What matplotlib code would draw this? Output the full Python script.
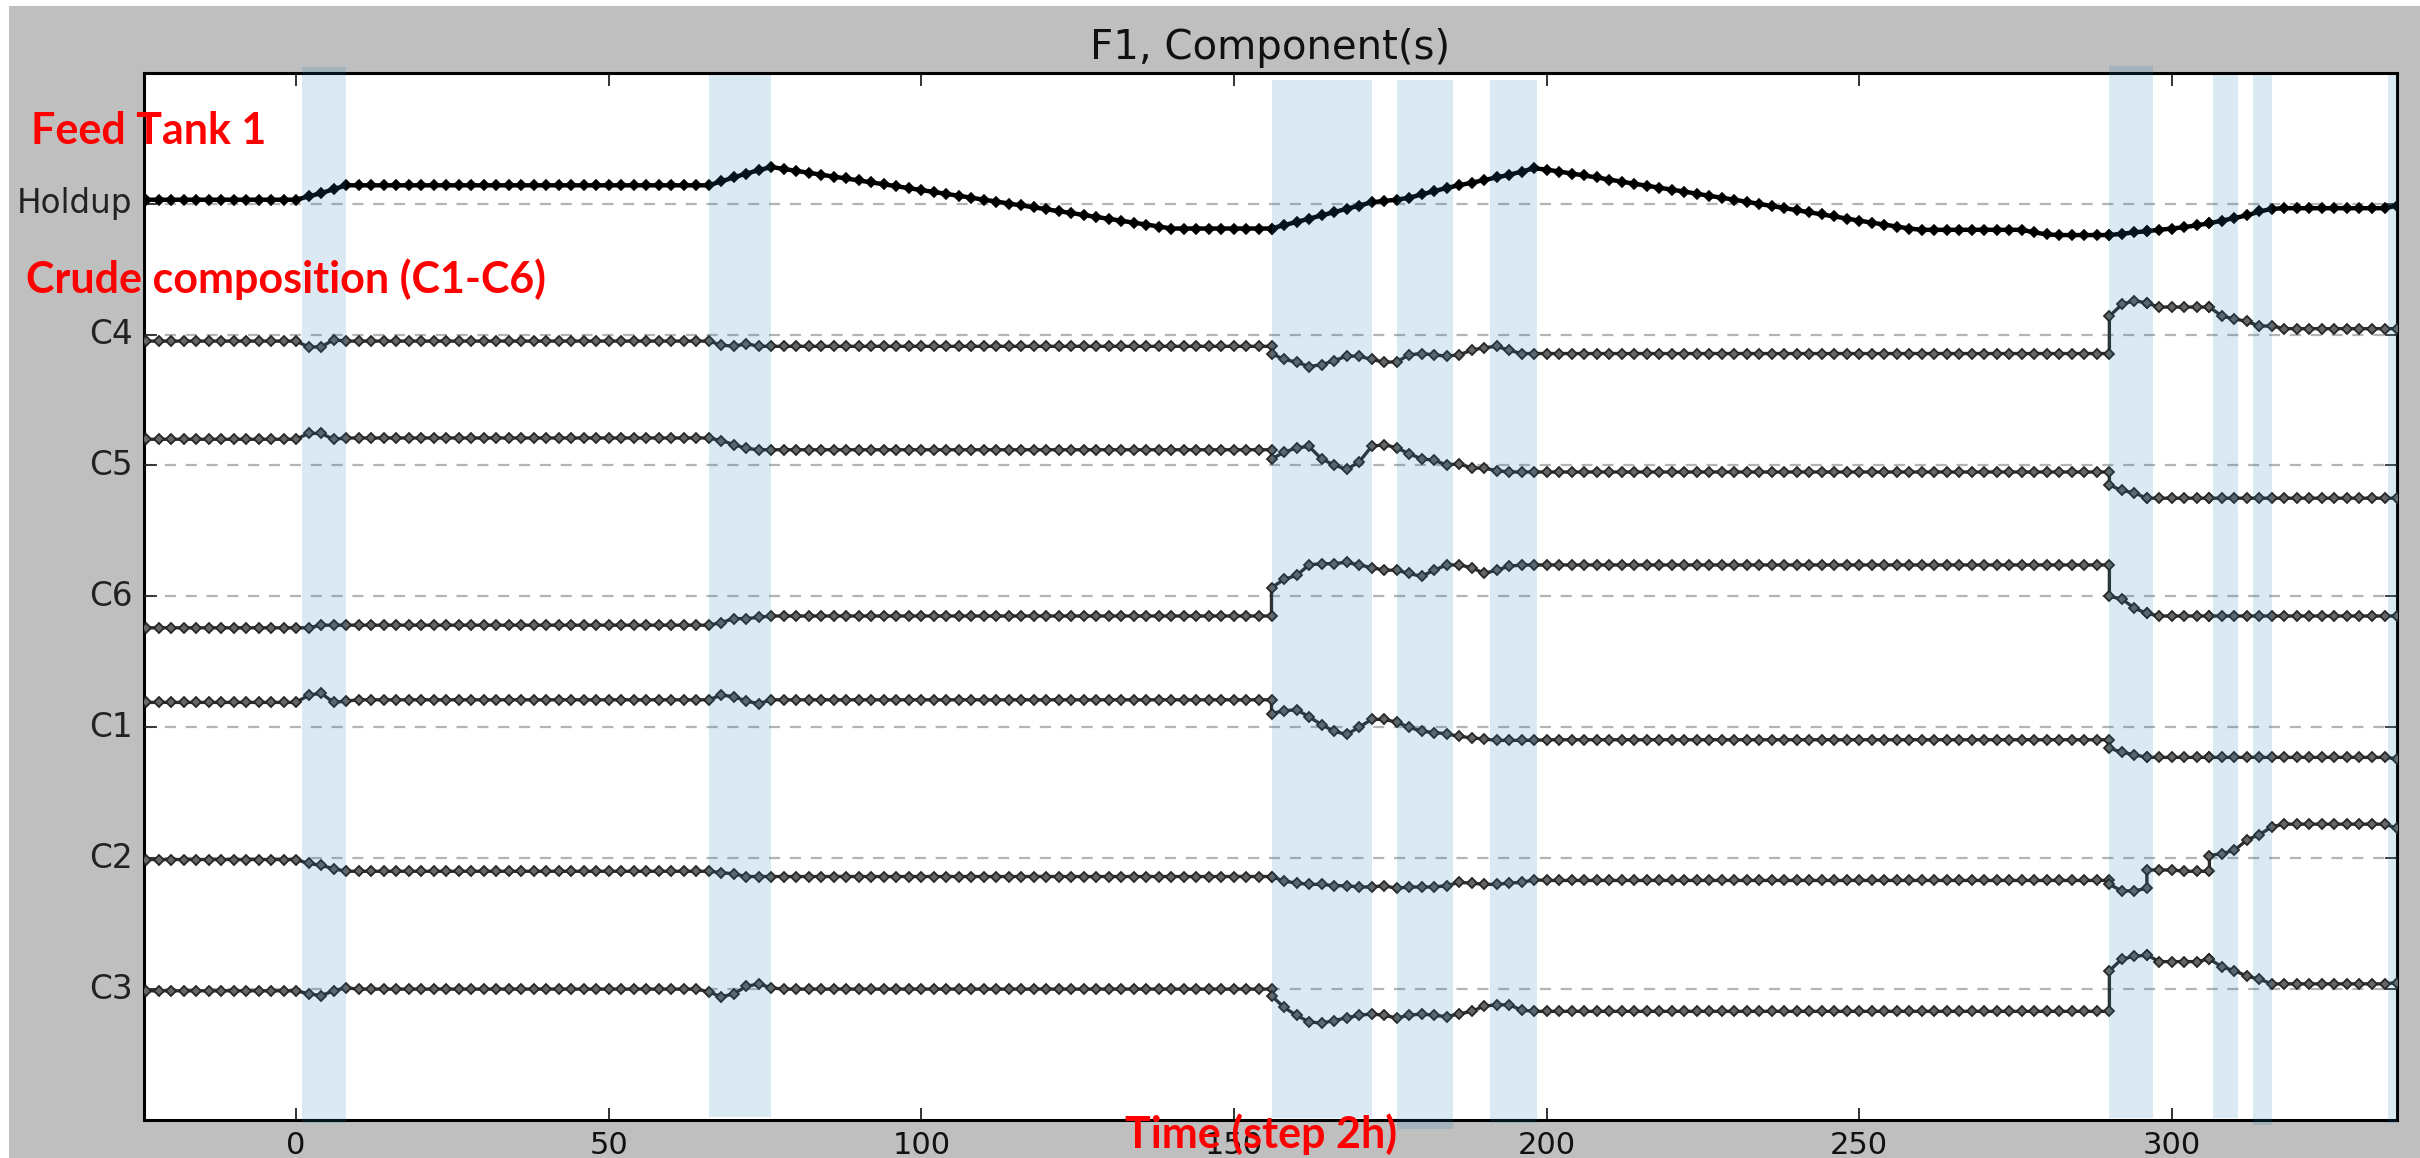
import numpy as np
import matplotlib
matplotlib.use("Agg")
import matplotlib.pyplot as plt
from matplotlib.patches import Rectangle

plt.style.use("classic")

# time grid (step 2), repeated instants are where the feed switches
time = np.concatenate([
    np.arange(-24, 157, 2),
    np.arange(156, 291, 2),
    np.arange(290, 297, 2),
    np.arange(296, 307, 2),
    np.arange(306, 337, 2),
])

labels = ["Holdup", "C4", "C5", "C6", "C1", "C2", "C3"]

# deviations from the reference level of each row (row spacing = 1)
holdup = (
    [0.03] * 13 + [0.055, 0.08, 0.11, 0.14] + [0.14] * 29
    + [0.17, 0.2, 0.23, 0.255, 0.28]
    + [0.265, 0.25, 0.236, 0.221, 0.206, 0.192, 0.177, 0.162, 0.148, 0.133,
       0.118, 0.104, 0.089, 0.074, 0.06, 0.045, 0.03, 0.016, 0.001, -0.014,
       -0.028, -0.043, -0.058, -0.072, -0.087, -0.102, -0.116, -0.131,
       -0.146, -0.16, -0.175, -0.19]
    + [-0.19] * 8
    + [-0.19, -0.165, -0.14, -0.115, -0.09, -0.065, -0.04, -0.015, 0.01]
    + [0.02, 0.03, 0.045]
    + [0.07, 0.095, 0.12, 0.14, 0.16, 0.18, 0.2, 0.22, 0.245, 0.27]
    + [0.26, 0.245, 0.23, 0.215, 0.2, 0.184, 0.168, 0.152, 0.137, 0.122,
       0.107, 0.092, 0.076, 0.06, 0.045, 0.03, 0.014, -0.002, -0.018, -0.034,
       -0.05, -0.066, -0.082, -0.098, -0.114, -0.13, -0.145, -0.16, -0.175,
       -0.19]
    + [-0.2] * 9 + [-0.22, -0.235, -0.24, -0.24, -0.24, -0.24, -0.24]
    + [-0.24, -0.23, -0.22, -0.21]
    + [-0.21, -0.2, -0.19, -0.18, -0.165, -0.15]
    + [-0.15, -0.13, -0.11, -0.09, -0.06, -0.04] + [-0.035] * 9 + [-0.015]
)

c4 = (
    [-0.05] * 13 + [-0.095, -0.095, -0.04, -0.05] + [-0.05] * 28
    + [-0.05, -0.08, -0.09, -0.07, -0.09, -0.09] + [-0.09] * 40
    + [-0.145, -0.19, -0.21, -0.245, -0.23, -0.2, -0.165, -0.165, -0.19,
       -0.21, -0.21, -0.155, -0.145, -0.155, -0.165, -0.155, -0.12, -0.1,
       -0.09, -0.12, -0.145, -0.145]
    + [-0.145] * 46
    + [0.14, 0.23, 0.26, 0.24]
    + [0.24, 0.21, 0.21, 0.21, 0.21, 0.21]
    + [0.21, 0.14, 0.12, 0.1, 0.065, 0.065] + [0.045] * 10
)

c5 = (
    [0.2] * 13 + [0.245, 0.245, 0.2, 0.21] + [0.21] * 29
    + [0.19, 0.16, 0.13, 0.12, 0.12] + [0.12] * 40
    + [0.05, 0.1, 0.135, 0.145, 0.05, 0.004, -0.03, 0.026, 0.145, 0.16,
       0.135, 0.09, 0.05, 0.04, 0.004, 0.013, -0.02, -0.02, -0.04, -0.05,
       -0.05, -0.05]
    + [-0.05] * 46
    + [-0.15, -0.19, -0.21, -0.25]
    + [-0.25] * 6
    + [-0.25] * 16
)

c6 = (
    [-0.24] * 14 + [-0.22] * 31
    + [-0.22, -0.2, -0.17, -0.17, -0.16, -0.15] + [-0.15] * 40
    + [0.066, 0.13, 0.16, 0.24, 0.25, 0.25, 0.26, 0.24, 0.22, 0.2, 0.2,
       0.175, 0.153, 0.2, 0.24, 0.24, 0.22, 0.175, 0.2, 0.23, 0.24, 0.24]
    + [0.24] * 46
    + [0.0, -0.02, -0.09, -0.13]
    + [-0.13] + [-0.15] * 5
    + [-0.15] * 16
)

c1 = (
    [0.19] * 13 + [0.245, 0.26, 0.19, 0.2] + [0.21] * 29
    + [0.245, 0.235, 0.2, 0.18, 0.21] + [0.21] * 40
    + [0.105, 0.125, 0.135, 0.08, 0.02, -0.03, -0.055, 0.0, 0.06, 0.06,
       0.04, 0.0, -0.03, -0.04, -0.05, -0.07, -0.08, -0.09, -0.1, -0.1,
       -0.1, -0.1]
    + [-0.095] * 46
    + [-0.16, -0.19, -0.21, -0.23]
    + [-0.23] * 6
    + [-0.23] * 15 + [-0.24]
)

c2 = (
    [-0.01] * 13 + [-0.04, -0.055, -0.08, -0.1] + [-0.1] * 29
    + [-0.11, -0.12, -0.14, -0.14, -0.14] + [-0.14] * 40
    + [-0.14, -0.175, -0.19, -0.2, -0.2, -0.21, -0.21, -0.22, -0.22, -0.21,
       -0.23, -0.22, -0.22, -0.22, -0.21, -0.185, -0.19, -0.2, -0.2, -0.19,
       -0.185, -0.165]
    + [-0.17] * 46
    + [-0.2, -0.25, -0.25, -0.23]
    + [-0.09, -0.09, -0.09, -0.1, -0.1, -0.1]
    + [0.02, 0.035, 0.06, 0.14, 0.18, 0.24] + [0.26] * 9 + [0.23]
)

c3 = (
    [-0.013] * 13 + [-0.035, -0.05, -0.013, 0.01] + [0.0] * 28
    + [-0.02, -0.06, -0.035, 0.02, 0.04, 0.01] + [0.0] * 40
    + [-0.05, -0.14, -0.2, -0.25, -0.26, -0.24, -0.22, -0.2, -0.19, -0.2,
       -0.22, -0.2, -0.19, -0.2, -0.21, -0.19, -0.17, -0.13, -0.12, -0.12,
       -0.16, -0.17]
    + [-0.17] * 46
    + [0.14, 0.23, 0.25, 0.26]
    + [0.26, 0.21, 0.21, 0.21, 0.21, 0.23]
    + [0.23, 0.17, 0.14, 0.1, 0.075, 0.04] + [0.04] * 9 + [0.05]
)

series = [holdup, c4, c5, c6, c1, c2, c3]
for s in series:
    assert len(s) == len(time), len(s)

# shaded disturbance windows
span_start = [1, 66, 156, 176, 191, 290, 306.5, 313, 334.5]
span_end = [8, 76, 172, 185, 198.5, 297, 310.5, 316, 336]
span_top = [1.005, 0.998, 0.993, 0.993, 0.993, 1.006, 0.998, 0.998, 0.998]
span_bot = [-0.003, 0.003, 0.002, -0.009, -0.003, 0.002, 0.002, -0.005, -0.003]

fig = plt.figure(figsize=(24.2, 11.58), dpi=100, facecolor="white")
fig.patches.append(Rectangle((9 / 2420, 0), 1, 1 - 6 / 1158,
                             transform=fig.transFigure, facecolor="#bfbfbf",
                             edgecolor="none", zorder=-10))
ax = fig.add_axes([0.0593, 0.0328, 0.9312, 0.9044])

levels = np.arange(len(labels))[::-1]
for lvl, vals, name in zip(levels, series, labels):
    ax.axhline(lvl, color="#b4b4b4", lw=1.6, ls=(0, (8, 7)), zorder=1)
    y = lvl + np.asarray(vals)
    if name == "Holdup":
        ax.plot(time, y, "-", color="black", lw=3.2, marker="D", ms=5.6,
                mfc="black", mec="black", mew=1.2, zorder=3)
    else:
        ax.plot(time, y, "-", color="#2e2e2e", lw=2.4, marker="D", ms=5.2,
                mfc="#666666", mec="#262626", mew=1.3, zorder=3)

for x0, x1, lo, hi in zip(span_start, span_end, span_bot, span_top):
    ax.axvspan(x0, x1, ymin=lo, ymax=hi, color="#1f77b4", alpha=0.16,
               lw=0, zorder=4, clip_on=False)

ax.set_xlim(-24.4, 336)
ax.set_ylim(-1, 7)
ax.set_yticks(levels)
ax.set_yticklabels(labels)
ax.set_xticks([0, 50, 100, 150, 200, 250, 300])
ax.tick_params(axis="x", labelsize=22, length=9, width=1.2, pad=8,
               colors="#111111")
ax.tick_params(axis="y", labelsize=23.5, length=9, width=1.2, pad=8,
               colors="#222222")
for sp in ax.spines.values():
    sp.set_linewidth(2.2)
ax.set_title("F1, Component(s)", fontsize=29, pad=10, color="#111111")

red = dict(color="red", fontweight="bold", family=["Lato", "DejaVu Sans"],
           fontsize=31)
fig.text(31 / 2420, 1 - 144 / 1158, "Feed Tank 1", **red)
fig.text(26 / 2420, 1 - 293 / 1158, "Crude composition (C1-C6)", **red)
fig.text(1125 / 2420, 1 - 1148 / 1158, "Time (step 2h)", **red)

fig.savefig("out.png", dpi=100, facecolor=fig.get_facecolor())
